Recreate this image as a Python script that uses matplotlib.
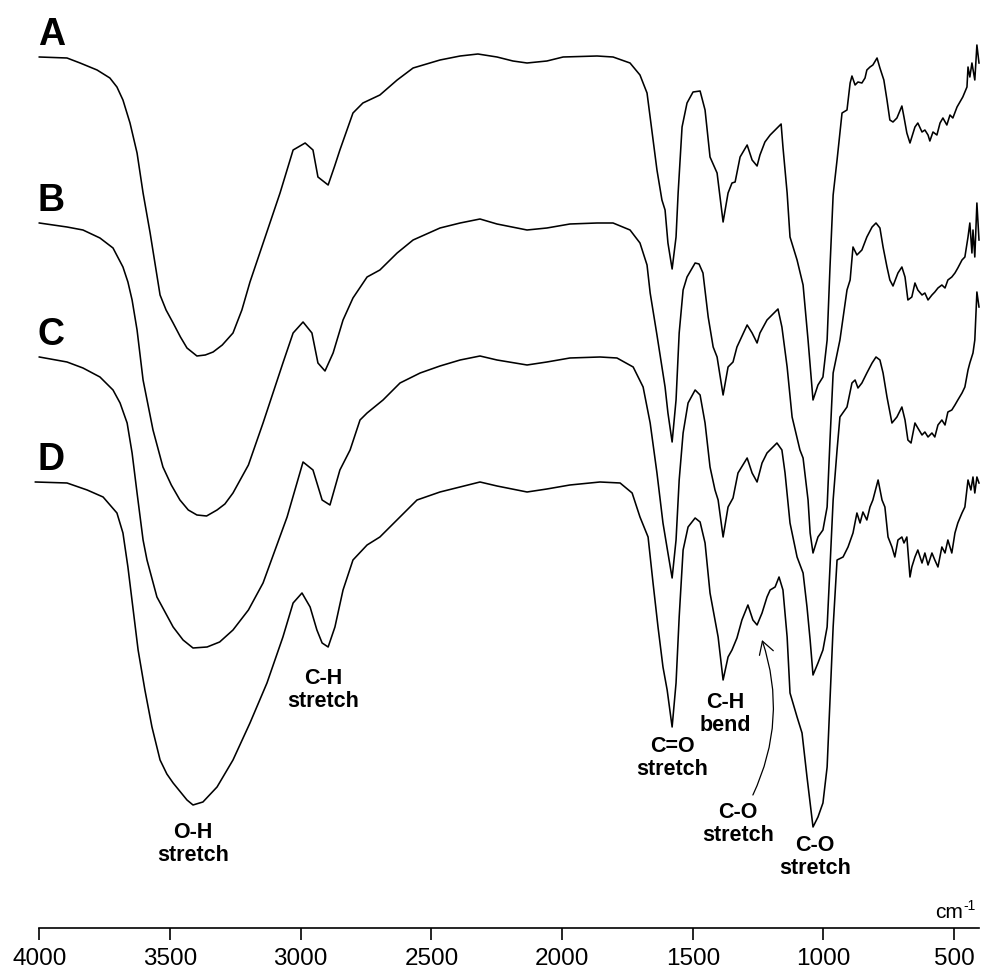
import matplotlib
matplotlib.use("Agg")
import matplotlib.pyplot as plt

plt.rcParams['font.family'] = ['Liberation Sans', 'DejaVu Sans']

# FTIR spectra, wavenumber (cm-1) and transmittance (offset, arbitrary)
wn_a = [4000, 3894, 3844, 3779, 3730, 3703, 3680, 3653, 3626, 3603, 3576, 3550, 3538, 3515, 3488,
        3460, 3435, 3397, 3365, 3335, 3300, 3259, 3225, 3194, 3136, 3079, 3029, 2983, 2953, 2934,
        2895, 2870, 2850, 2800, 2762, 2697, 2631, 2570, 2467, 2390, 2322, 2249, 2188, 2134, 2058,
        1996, 1866, 1805, 1740, 1702, 1675, 1652, 1637, 1618, 1606, 1595, 1579, 1564, 1556, 1541,
        1522, 1499, 1472, 1453, 1434, 1407, 1384, 1365, 1350, 1338, 1319, 1292, 1273, 1254, 1243,
        1224, 1204, 1185, 1162, 1155, 1139, 1128, 1101, 1078, 1059, 1040, 1021, 1002, 986, 975,
        963, 948, 929, 910, 898, 891, 879, 868, 853, 841, 834, 822, 811, 795, 784,
        769, 757, 746, 734, 719, 700, 692, 681, 669, 650, 639, 623, 612, 600, 593,
        581, 566, 554, 543, 528, 516, 505, 489, 478, 467, 451, 447, 440, 432, 421,
        413, 405]
t_a = [94.3, 94.2, 93.7, 93.0, 92.2, 91.3, 90.0, 87.7, 84.7, 80.7, 76.7, 72.5, 70.5, 69.0, 67.7,
       66.3, 65.2, 64.4, 64.5, 64.8, 65.5, 66.7, 69.0, 71.8, 76.3, 80.7, 85.0, 85.7, 85.0, 82.3,
       81.5, 83.4, 85.0, 88.7, 89.7, 90.5, 92.0, 93.2, 94.0, 94.4, 94.6, 94.3, 93.9, 93.7, 93.9,
       94.3, 94.4, 94.3, 93.7, 92.5, 90.7, 86.0, 83.0, 80.0, 79.0, 75.7, 73.1, 76.3, 80.7, 87.3,
       89.7, 90.8, 90.9, 89.0, 84.3, 82.7, 77.8, 80.7, 81.7, 81.8, 84.3, 85.5, 84.0, 83.4, 84.5,
       85.8, 86.5, 87.0, 87.6, 85.3, 80.7, 76.3, 74.0, 71.5, 66.0, 60.0, 61.5, 62.3, 66.0, 73.3,
       80.5, 84.0, 88.7, 89.0, 91.7, 92.4, 91.5, 91.8, 91.7, 92.2, 93.0, 93.3, 93.5, 94.2, 93.2,
       92.0, 90.0, 88.0, 87.8, 88.2, 89.4, 88.3, 86.7, 85.7, 87.3, 87.7, 86.8, 87.0, 86.5, 85.9,
       86.8, 86.5, 87.7, 88.2, 87.5, 88.5, 88.2, 89.3, 89.8, 90.3, 91.3, 93.3, 92.3, 93.7, 92.0,
       95.5, 93.7]

wn_b = [4000, 3894, 3833, 3768, 3718, 3680, 3661, 3645, 3626, 3603, 3565, 3527, 3495, 3462, 3430,
        3397, 3360, 3320, 3290, 3259, 3200, 3144, 3068, 3029, 2991, 2957, 2934, 2907, 2876, 2838,
        2800, 2746, 2697, 2631, 2570, 2467, 2390, 2314, 2249, 2134, 2058, 1970, 1866, 1805, 1740,
        1702, 1675, 1663, 1637, 1618, 1606, 1595, 1579, 1564, 1552, 1537, 1522, 1491, 1476, 1461,
        1441, 1422, 1407, 1384, 1365, 1346, 1331, 1292, 1273, 1254, 1243, 1216, 1197, 1174, 1159,
        1139, 1120, 1090, 1078, 1059, 1051, 1040, 1021, 1002, 986, 975, 963, 937, 910, 898,
        887, 872, 853, 834, 814, 799, 784, 772, 757, 746, 734, 715, 700, 688, 677,
        662, 650, 639, 623, 612, 600, 585, 574, 562, 547, 535, 524, 509, 497, 486,
        470, 459, 447, 440, 432, 428, 421, 413, 405]
t_b = [77.7, 77.3, 77.0, 76.2, 75.2, 73.3, 71.8, 70.0, 67.0, 62.0, 57.0, 53.3, 51.5, 50.0, 49.0,
       48.5, 48.4, 49.0, 49.6, 50.7, 53.5, 57.7, 63.7, 66.7, 67.8, 66.7, 63.7, 62.9, 64.7, 68.0,
       70.2, 72.3, 73.0, 74.7, 76.0, 77.2, 77.7, 78.1, 77.6, 77.0, 77.2, 77.6, 77.7, 77.7, 77.0,
       75.7, 73.5, 70.7, 66.5, 63.3, 61.3, 58.7, 55.8, 60.0, 66.7, 71.0, 72.3, 73.7, 73.6, 72.7,
       68.3, 65.3, 64.3, 60.5, 63.3, 63.8, 65.3, 67.5, 66.7, 65.7, 66.7, 68.0, 68.5, 69.1, 67.3,
       63.3, 58.3, 55.0, 54.2, 50.0, 46.7, 44.7, 46.3, 47.0, 49.3, 56.0, 62.7, 66.0, 71.0, 72.0,
       75.3, 74.5, 75.0, 76.3, 77.3, 77.7, 77.2, 75.3, 73.3, 72.0, 71.4, 72.7, 73.3, 72.3, 70.0,
       70.3, 71.7, 71.0, 70.5, 70.7, 70.0, 70.5, 70.8, 71.2, 71.5, 71.2, 72.0, 72.3, 72.7, 73.2,
       74.0, 74.3, 76.3, 77.7, 74.7, 77.0, 74.3, 79.7, 76.0]

wn_c = [4000, 3894, 3833, 3768, 3718, 3691, 3664, 3645, 3626, 3603, 3588, 3550, 3488, 3450, 3412,
        3358, 3310, 3259, 3200, 3144, 3052, 2991, 2953, 2918, 2888, 2850, 2811, 2773, 2746, 2685,
        2620, 2543, 2467, 2390, 2314, 2249, 2134, 2058, 1970, 1855, 1790, 1728, 1690, 1663, 1637,
        1614, 1595, 1579, 1564, 1552, 1537, 1518, 1491, 1472, 1453, 1434, 1415, 1403, 1384, 1365,
        1346, 1327, 1292, 1273, 1254, 1235, 1216, 1197, 1178, 1159, 1147, 1128, 1101, 1078, 1063,
        1051, 1040, 1021, 1002, 986, 975, 963, 948, 937, 910, 891, 879, 868, 853, 834,
        814, 799, 784, 772, 757, 738, 719, 700, 688, 677, 665, 650, 639, 623, 612,
        600, 585, 574, 562, 547, 535, 524, 509, 497, 486, 470, 459, 447, 440, 428,
        421, 413, 405]
t_c = [64.3, 63.8, 63.2, 62.3, 61.0, 59.7, 57.7, 54.7, 50.7, 46.0, 44.0, 40.3, 37.3, 36.0, 35.2,
       35.3, 35.8, 37.0, 39.0, 41.7, 48.3, 53.8, 53.0, 50.0, 49.5, 53.0, 55.0, 58.0, 58.7, 60.0,
       61.7, 62.7, 63.4, 64.0, 64.4, 64.0, 63.5, 63.8, 64.2, 64.3, 64.2, 63.3, 61.3, 57.7, 52.7,
       47.7, 44.7, 42.2, 46.0, 52.0, 56.7, 59.7, 61.0, 60.5, 57.7, 53.3, 51.0, 50.0, 46.3, 49.3,
       50.2, 52.7, 54.2, 52.7, 51.8, 53.7, 54.7, 55.2, 55.7, 55.0, 52.7, 47.7, 44.3, 42.7, 39.3,
       36.0, 32.5, 33.7, 35.0, 37.3, 43.3, 50.0, 55.0, 58.3, 59.3, 61.7, 62.0, 61.2, 61.7, 62.7,
       63.7, 64.3, 64.0, 62.7, 60.3, 57.7, 58.3, 59.3, 58.0, 56.0, 55.7, 57.7, 57.2, 56.5, 56.8,
       56.3, 56.7, 56.3, 57.5, 58.0, 57.5, 58.8, 59.0, 59.5, 60.0, 60.7, 61.3, 63.0, 63.7, 64.7,
       66.0, 70.8, 69.3]

wn_d = [4015, 3894, 3817, 3756, 3703, 3680, 3661, 3641, 3622, 3596, 3569, 3538, 3512, 3488, 3435,
        3412, 3374, 3320, 3259, 3194, 3129, 3068, 3029, 2995, 2964, 2938, 2918, 2895, 2869, 2838,
        2800, 2746, 2697, 2620, 2555, 2467, 2390, 2314, 2249, 2134, 2058, 1970, 1855, 1778, 1732,
        1702, 1671, 1652, 1633, 1614, 1598, 1579, 1564, 1552, 1537, 1518, 1491, 1472, 1453, 1434,
        1415, 1403, 1384, 1365, 1350, 1331, 1312, 1289, 1270, 1254, 1235, 1216, 1204, 1185, 1170,
        1155, 1139, 1128, 1101, 1082, 1063, 1048, 1040, 1021, 1002, 986, 975, 963, 948, 925,
        906, 887, 872, 860, 849, 834, 822, 811, 791, 776, 765, 753, 738, 727, 715,
        700, 692, 681, 669, 662, 650, 639, 623, 612, 600, 585, 574, 562, 547, 535,
        524, 509, 497, 486, 470, 459, 447, 436, 428, 421, 413, 405]
t_d = [51.8, 51.7, 51.0, 50.3, 48.7, 46.7, 43.3, 39.0, 35.0, 31.0, 27.3, 24.0, 22.6, 21.7, 20.0,
       19.5, 19.8, 21.3, 24.0, 27.7, 31.7, 36.3, 39.7, 40.7, 39.3, 37.0, 35.7, 35.3, 37.3, 41.0,
       44.0, 45.5, 46.3, 48.3, 50.0, 50.8, 51.3, 51.8, 51.4, 50.8, 51.1, 51.5, 51.8, 51.7, 50.7,
       48.3, 46.3, 41.7, 37.3, 33.3, 31.0, 27.3, 31.7, 38.3, 45.0, 47.3, 48.2, 47.8, 45.7, 40.7,
       38.0, 36.3, 32.0, 34.3, 35.0, 36.2, 38.0, 39.5, 38.0, 37.5, 38.7, 40.3, 41.0, 41.3, 42.3,
       41.0, 36.3, 30.7, 28.3, 26.7, 22.3, 19.0, 17.3, 18.3, 19.7, 23.3, 30.0, 37.3, 44.0, 44.3,
       45.3, 46.7, 48.7, 47.7, 48.8, 48.0, 49.3, 50.0, 52.0, 50.0, 49.3, 46.3, 45.3, 44.3, 46.0,
       46.3, 45.7, 46.3, 42.3, 43.3, 44.3, 45.0, 43.7, 44.7, 43.5, 44.7, 44.0, 43.3, 45.3, 44.7,
       46.0, 44.7, 46.7, 47.7, 48.7, 49.3, 52.0, 51.0, 52.3, 50.7, 52.3, 51.7]

samples = ['A', 'B', 'C', 'D']
spectra = [(wn_a, t_a), (wn_b, t_b), (wn_c, t_c), (wn_d, t_d)]
ticks = [4000, 3500, 3000, 2500, 2000, 1500, 1000, 500]

fig = plt.figure(figsize=(9.85, 9.71), dpi=100)
ax = fig.add_axes([0.0399, 0.0443, 0.954, 0.9557])

for name, (wn, t) in zip(samples, spectra):
    ax.plot(wn, t, color='black', lw=1.15, clip_on=False, solid_joinstyle='round')
    ax.text(4005, t[0] + 1.2, name, fontsize=27, fontweight='bold',
            ha='left', va='baseline')

ax.set_xlim(4000, 405)
ax.set_ylim(7.2, 100)

for side in ['top', 'left', 'right']:
    ax.spines[side].set_visible(False)
ax.spines['bottom'].set_linewidth(1.2)
ax.set_yticks([])
ax.set_xticks(ticks)
ax.tick_params(axis='x', direction='out', length=8.6, width=1.2, pad=5.5,
               labelsize=17.5)

# unit label with a plain hyphen in the superscript
fig.text(0.9777, 0.0546, 'cm', ha='right', va='baseline', fontsize=15)
fig.text(0.9777, 0.0625, '-1', ha='left', va='baseline', fontsize=10)

# band assignments
bands = [('O-H\nstretch', 3412, 17.8),
         ('C-H\nstretch', 2915, 33.2),
         ('C=O\nstretch', 1579, 26.4),
         ('C-H\nbend', 1376, 30.8),
         ('C-O\nstretch', 1327, 19.8),
         ('C-O\nstretch', 1032, 16.5)]
for txt, x, y in bands:
    ax.text(x, y, txt, fontsize=15.5, fontweight='bold', ha='center', va='top',
            linespacing=1.1)

ax.annotate('', xy=(1235, 36.0), xytext=(1270, 20.5),
            arrowprops=dict(arrowstyle='->,head_length=0.6,head_width=0.35',
                            connectionstyle='arc3,rad=0.2', color='black',
                            lw=0.9, shrinkA=0, shrinkB=0, mutation_scale=15))

fig.savefig('out.png', dpi=100)
